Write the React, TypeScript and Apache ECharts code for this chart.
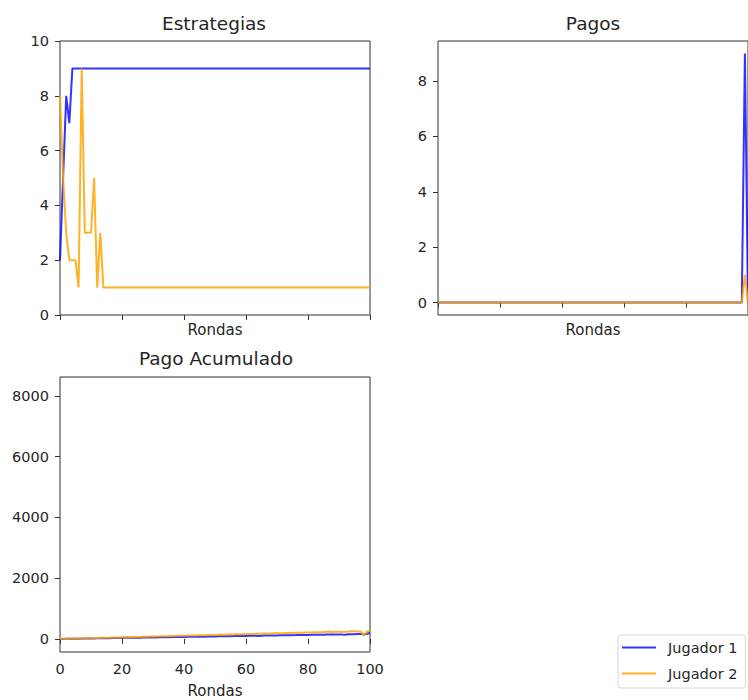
import React, { useEffect, useRef } from "react";
import * as echarts from "echarts";

// Rondas 0..100
const RONDAS: number[] = Array.from({ length: 101 }, (_, i) => i);

const ESTRATEGIA_J1: number[] = [
  2, 5, 8, 7, 9, 9, 9, 9, 9, 9,
  9, 9, 9, 9, 9, 9, 9, 9, 9, 9,
  9, 9, 9, 9, 9, 9, 9, 9, 9, 9,
  9, 9, 9, 9, 9, 9, 9, 9, 9, 9,
  9, 9, 9, 9, 9, 9, 9, 9, 9, 9,
  9, 9, 9, 9, 9, 9, 9, 9, 9, 9,
  9, 9, 9, 9, 9, 9, 9, 9, 9, 9,
  9, 9, 9, 9, 9, 9, 9, 9, 9, 9,
  9, 9, 9, 9, 9, 9, 9, 9, 9, 9,
  9, 9, 9, 9, 9, 9, 9, 9, 9, 9,
  9,
];

const ESTRATEGIA_J2: number[] = [
  8, 5, 3, 2, 2, 2, 1, 9, 3, 3,
  3, 5, 1, 3, 1, 1, 1, 1, 1, 1,
  1, 1, 1, 1, 1, 1, 1, 1, 1, 1,
  1, 1, 1, 1, 1, 1, 1, 1, 1, 1,
  1, 1, 1, 1, 1, 1, 1, 1, 1, 1,
  1, 1, 1, 1, 1, 1, 1, 1, 1, 1,
  1, 1, 1, 1, 1, 1, 1, 1, 1, 1,
  1, 1, 1, 1, 1, 1, 1, 1, 1, 1,
  1, 1, 1, 1, 1, 1, 1, 1, 1, 1,
  1, 1, 1, 1, 1, 1, 1, 1, 1, 1,
  1,
];

const PAGO_J1: number[] = [
  0, 0, 0, 0, 0, 0, 0, 0, 0, 0,
  0, 0, 0, 0, 0, 0, 0, 0, 0, 0,
  0, 0, 0, 0, 0, 0, 0, 0, 0, 0,
  0, 0, 0, 0, 0, 0, 0, 0, 0, 0,
  0, 0, 0, 0, 0, 0, 0, 0, 0, 0,
  0, 0, 0, 0, 0, 0, 0, 0, 0, 0,
  0, 0, 0, 0, 0, 0, 0, 0, 0, 0,
  0, 0, 0, 0, 0, 0, 0, 0, 0, 0,
  0, 0, 0, 0, 0, 0, 0, 0, 0, 0,
  0, 0, 0, 0, 0, 0, 0, 0, 0, 9,
  0,
];

const PAGO_J2: number[] = [
  0, 0, 0, 0, 0, 0, 0, 0, 0, 0,
  0, 0, 0, 0, 0, 0, 0, 0, 0, 0,
  0, 0, 0, 0, 0, 0, 0, 0, 0, 0,
  0, 0, 0, 0, 0, 0, 0, 0, 0, 0,
  0, 0, 0, 0, 0, 0, 0, 0, 0, 0,
  0, 0, 0, 0, 0, 0, 0, 0, 0, 0,
  0, 0, 0, 0, 0, 0, 0, 0, 0, 0,
  0, 0, 0, 0, 0, 0, 0, 0, 0, 0,
  0, 0, 0, 0, 0, 0, 0, 0, 0, 0,
  0, 0, 0, 0, 0, 0, 0, 0, 0, 1,
  0,
];

const ACUMULADO_J1: number[] = [
  0, 1, 3, 5, 6, 8, 10, 11, 13, 15,
  16, 18, 20, 21, 23, 25, 26, 28, 30, 31,
  33, 35, 36, 38, 40, 41, 43, 45, 46, 48,
  50, 51, 53, 55, 56, 58, 60, 61, 63, 65,
  66, 68, 70, 71, 73, 75, 76, 72, 80, 81,
  83, 85, 86, 88, 90, 91, 93, 95, 96, 98,
  100, 101, 103, 105, 99, 108, 110, 111, 113, 115,
  116, 118, 120, 121, 123, 125, 126, 128, 130, 131,
  133, 135, 136, 138, 140, 141, 143, 145, 146, 148,
  150, 142, 138, 155, 156, 158, 160, 162, 150, 170,
  195,
];

const ACUMULADO_J2: number[] = [
  0, 3, 5, 8, 11, 13, 16, 19, 21, 24,
  27, 29, 32, 35, 37, 40, 43, 45, 48, 51,
  53, 56, 59, 61, 64, 67, 69, 72, 75, 77,
  80, 83, 85, 88, 91, 93, 96, 99, 101, 104,
  107, 109, 112, 115, 117, 120, 123, 125, 128, 131,
  133, 136, 139, 141, 144, 147, 149, 152, 155, 157,
  160, 163, 165, 168, 171, 173, 176, 170, 181, 184,
  186, 189, 186, 194, 197, 192, 202, 205, 200, 210,
  213, 209, 218, 221, 216, 226, 240, 246, 228, 236,
  238, 232, 236, 242, 250, 254, 248, 244, 105, 240,
  288,
];

const X_TICKS: number[] = [0, 20, 40, 60, 80, 100];
const Y_TICKS_ESTRATEGIAS: number[] = [0, 2, 4, 6, 8, 10];
const Y_TICKS_PAGOS: number[] = [0, 2, 4, 6, 8];
const Y_TICKS_ACUMULADO: number[] = [0, 2000, 4000, 6000, 8000];

const JUGADORES = ["Jugador 1", "Jugador 2"];
const COLORES = ["rgba(0,0,255,0.8)", "rgba(255,165,0,0.85)"];

const FONT = "DejaVu Sans";
const TEXT = "#262626";
const SPINE = "#333333";

function pares(ys: number[]): number[][] {
  return RONDAS.map((r, i) => [r, ys[i]]);
}

export default function App() {
  const ref = useRef<HTMLDivElement>(null);

  useEffect(() => {
    if (!ref.current) return;
    const chart = echarts.init(ref.current, undefined, { renderer: "svg" });

    const grids = [
      { left: 60, top: 41, width: 310, height: 274 },
      { left: 438, top: 41, width: 310, height: 274 },
      { left: 60, top: 377, width: 310, height: 275 },
    ].map((g) => ({
      ...g,
      show: true,
      borderColor: SPINE,
      borderWidth: 1,
      backgroundColor: "transparent",
      containLabel: false,
    }));

    const plain = (v: number) => String(v);

    const xAxis = [0, 1, 2].map((i) => ({
      type: "value",
      gridIndex: i,
      min: 0,
      max: 100,
      name: "Rondas",
      nameLocation: "middle",
      nameGap: i === 2 ? 31 : 7,
      nameTextStyle: { fontFamily: FONT, fontSize: 15, color: TEXT },
      axisLine: { show: false },
      splitLine: { show: false },
      axisTick: {
        show: true,
        length: 5,
        customValues: X_TICKS,
        lineStyle: { color: SPINE },
      },
      axisLabel: {
        show: i === 2,
        customValues: X_TICKS,
        formatter: plain,
        margin: 9,
        fontFamily: FONT,
        fontSize: 14.5,
        color: TEXT,
      },
    }));

    const yDefs = [
      { min: 0, max: 10, ticks: Y_TICKS_ESTRATEGIAS },
      { min: -0.45, max: 9.45, ticks: Y_TICKS_PAGOS },
      { min: -430, max: 8620, ticks: Y_TICKS_ACUMULADO },
    ];
    const yAxis = yDefs.map((d, i) => ({
      type: "value",
      gridIndex: i,
      min: d.min,
      max: d.max,
      axisLine: { show: false },
      splitLine: { show: false },
      axisTick: {
        show: true,
        length: 5,
        customValues: d.ticks,
        lineStyle: { color: SPINE },
      },
      axisLabel: {
        customValues: d.ticks,
        formatter: plain,
        margin: 11,
        fontFamily: FONT,
        fontSize: 14.5,
        color: TEXT,
      },
    }));

    const datos = [
      [ESTRATEGIA_J1, ESTRATEGIA_J2],
      [PAGO_J1, PAGO_J2],
      [ACUMULADO_J1, ACUMULADO_J2],
    ];
    const series: any[] = [];
    datos.forEach((par, g) => {
      par.forEach((ys, j) => {
        series.push({
          type: "line",
          name: JUGADORES[j],
          xAxisIndex: g,
          yAxisIndex: g,
          data: pares(ys),
          showSymbol: false,
          symbol: "none",
          lineStyle: { color: COLORES[j], width: 2 },
          itemStyle: { color: COLORES[j] },
          z: 2 + j,
        });
      });
    });

    const titulos = [
      { text: "Estrategias", x: 214, y: 14 },
      { text: "Pagos", x: 593, y: 14 },
      { text: "Pago Acumulado", x: 216, y: 349 },
    ];

    chart.setOption({
      animation: false,
      backgroundColor: "#ffffff",
      textStyle: { fontFamily: FONT },
      title: titulos.map((t) => ({
        text: t.text,
        left: t.x,
        top: t.y,
        textAlign: "center",
        padding: 0,
        textStyle: {
          fontFamily: FONT,
          fontSize: 18.5,
          fontWeight: "normal",
          color: TEXT,
        },
      })),
      grid: grids,
      xAxis,
      yAxis,
      legend: {
        data: JUGADORES,
        orient: "vertical",
        left: 618,
        top: 635,
        padding: [5, 8, 7, 4],
        itemGap: 11,
        itemWidth: 34,
        itemHeight: 2,
        icon: "rect",
        backgroundColor: "rgba(255,255,255,0.8)",
        borderColor: "#d6d6d6",
        borderWidth: 1,
        borderRadius: 3,
        textStyle: {
          fontFamily: FONT,
          fontSize: 14.5,
          color: TEXT,
          padding: [0, 0, 0, 7],
        },
      },
      series,
    });

    return () => chart.dispose();
  }, []);

  return (
    <div
      ref={ref}
      style={{ position: "fixed", left: 0, top: 0, width: 748, height: 700 }}
    />
  );
}
